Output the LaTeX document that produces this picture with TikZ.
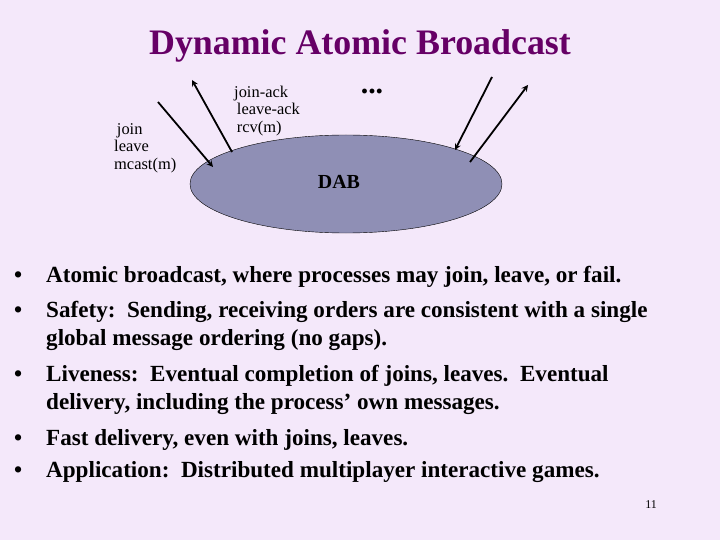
\documentclass[tikz,border=0pt]{standalone}
\usepackage{fontspec}
\setmainfont{Liberation Serif}
\usetikzlibrary{shapes.geometric}
\definecolor{bg}{HTML}{F4E8FA}
\definecolor{ttl}{HTML}{660066}
\definecolor{ell}{HTML}{8F8FB5}
\begin{document}
\begin{tikzpicture}[x=1bp,y=-1bp,
  lbl/.style={anchor=west,inner sep=0,font=\fontsize{16.5}{17.5}\selectfont,align=left},
  bl/.style={anchor=west,inner sep=0,font=\fontsize{23.2}{23.2}\bfseries\selectfont},
  arr/.style={-stealth,line width=1.8pt}]
\fill[bg] (0,0) rectangle (720,540);
\useasboundingbox (0,0) rectangle (720,540);
\node[inner sep=0,font=\fontsize{36}{36}\bfseries\selectfont,text=ttl] (t) at (360,46) {Dynamic Atomic Broadcast};
\node[ellipse,draw,fill=ell,minimum width=312bp,minimum height=98bp,inner sep=0] (e) at (346,184) {};
\node[font=\fontsize{20}{20}\bfseries\selectfont,inner sep=0] (d) at (339,182) {DAB};
\node[font=\fontsize{30}{30}\bfseries\selectfont,inner sep=0] (dots) at (372,92) {...};
\node[lbl] (l1) at (114,148) {\,join\\leave\\mcast(m)};
\node[lbl] (l2) at (234,111) {join-ack\\\,leave-ack\\\,rcv(m)};
\coordinate (a1s) at (158,102); \coordinate (a1e) at (213,167);
\coordinate (a2s) at (232,152); \coordinate (a2e) at (192,80);
\coordinate (a3s) at (492,77); \coordinate (a3e) at (455,150);
\coordinate (a4s) at (470,162); \coordinate (a4e) at (528,85);
\draw[arr] (a1s)--(a1e);
\draw[arr] (a2s)--(a2e);
\draw[arr] (a3s)--(a3e);
\draw[arr] (a4s)--(a4e);
\foreach \y in {277,312,376,440,472} \node[bl] at (14,\y) {•};
\node[bl] (b1) at (46,277) {Atomic broadcast, where processes may join, leave, or fail.};
\node[bl] (b2) at (46,312) {Safety:\ \ Sending, receiving orders are consistent with a single};
\node[bl] (b2b) at (46,340) {global message ordering (no gaps).};
\node[bl] (b3) at (46,376) {Liveness:\ \ Eventual completion of joins, leaves.\ \ Eventual};
\node[bl] (b3b) at (46,404) {delivery, including the process’ own messages.};
\node[bl] (b4) at (46,440) {Fast delivery, even with joins, leaves.};
\node[bl] (b5) at (46,472) {Application:\ \ Distributed multiplayer interactive games.};
\node[inner sep=0,font=\fontsize{12}{12}\selectfont] (pg) at (651,505) {11};
\end{tikzpicture}
\end{document}
